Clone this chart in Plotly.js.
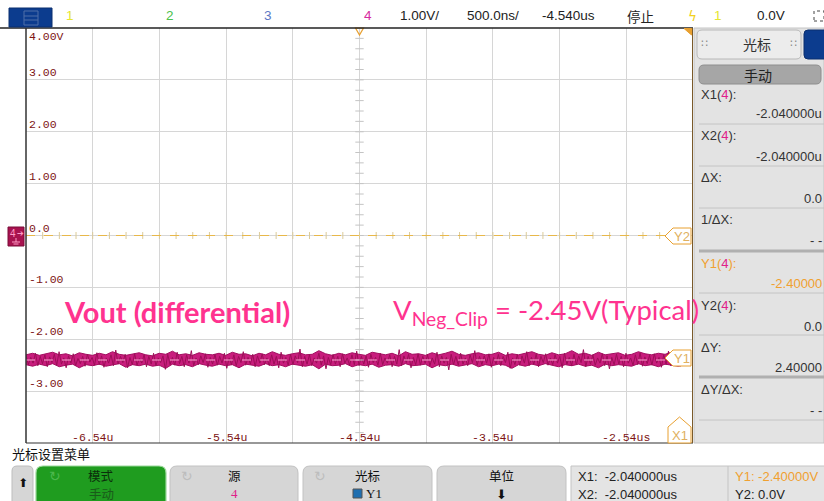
<!DOCTYPE html>
<html>
<head>
<meta charset="utf-8">
<script src="https://cdn.plot.ly/plotly-3.0.1.min.js"></script>
<style>
html,body{margin:0;padding:0;background:#fff;}
#chart{width:824px;height:501px;}
</style>
</head>
<body>
<div id="chart"></div>
<script>
// ---------------- data ----------------
const timeStart = -7.04;          // us, left edge of screen
const timeEnd = -2.04;            // us, right edge
const voltMin = -4;
const voltMax = 4;
const triggerTime = -4.54;        // us (screen centre)
const cursorX1 = -2.04;           // us
const cursorY1 = -2.40;           // V
const cursorY2 = 0.0;             // V

const yTickVals = [4, 3, 2, 1, 0, -1, -2, -3];
const yTickText = ['4.00V', '3.00', '2.00', '1.00', '0.0', '-1.00', '-2.00', '-3.00'];
const xTickVals = [-6.54, -5.54, -4.54, -3.54, -2.54];
const xTickText = ['-6.54u', '-5.54u', '-4.54u', '-3.54u', '-2.54us'];

// channel 4 waveform (differential Vout)
const ch4Volts = [
-2.31,-2.49,-2.35,-2.46,-2.27,-2.51,-2.33,-2.47,-2.30,-2.53,
-2.34,-2.45,-2.29,-2.50,-2.24,-2.48,-2.36,-2.55,-2.32,-2.46,
-2.28,-2.51,-2.37,-2.47,-2.33,-2.52,-2.29,-2.44,-2.35,-2.50,
-2.26,-2.49,-2.32,-2.54,-2.36,-2.46,-2.30,-2.51,-2.21,-2.48,
-2.33,-2.45,-2.29,-2.55,-2.35,-2.49,-2.28,-2.50,-2.37,-2.46,
-2.30,-2.53,-2.33,-2.48,-2.27,-2.51,-2.36,-2.45,-2.32,-2.58,
-2.29,-2.49,-2.35,-2.50,-2.25,-2.47,-2.33,-2.53,-2.30,-2.46,
-2.22,-2.51,-2.36,-2.49,-2.32,-2.45,-2.28,-2.54,-2.35,-2.48,
-2.29,-2.50,-2.33,-2.46,-2.27,-2.56,-2.36,-2.49,-2.30,-2.51,
-2.33,-2.45,-2.24,-2.50,-2.35,-2.48,-2.29,-2.53,-2.32,-2.46,
-2.28,-2.49,-2.36,-2.51,-2.30,-2.48,-2.33,-2.55,-2.25,-2.46,
-2.35,-2.50,-2.29,-2.49,-2.32,-2.45,-2.19,-2.53,-2.33,-2.48,
-2.30,-2.51,-2.36,-2.46,-2.27,-2.50,-2.32,-2.57,-2.35,-2.49,
-2.29,-2.48,-2.33,-2.53,-2.28,-2.46,-2.36,-2.50,-2.30,-2.49,
-2.23,-2.51,-2.33,-2.48,-2.32,-2.54,-2.29,-2.45,-2.35,-2.50,
-2.27,-2.49,-2.36,-2.46,-2.30,-2.53,-2.33,-2.48,-2.20,-2.51,
-2.32,-2.45,-2.29,-2.55,-2.35,-2.49,-2.28,-2.50,-2.33,-2.46,
-2.30,-2.51,-2.36,-2.48,-2.25,-2.53,-2.32,-2.46,-2.35,-2.59,
-2.29,-2.49,-2.33,-2.50,-2.27,-2.48,-2.36,-2.51,-2.30,-2.45,
-2.22,-2.50,-2.33,-2.49,-2.32,-2.46,-2.28,-2.54,-2.35,-2.48,
-2.29,-2.51,-2.33,-2.45,-2.25,-2.56,-2.36,-2.49,-2.30,-2.50,
-2.32,-2.46,-2.24,-2.51,-2.35,-2.48,-2.29,-2.53,-2.33,-2.45,
-2.28,-2.50,-2.36,-2.49,-2.30,-2.46,-2.33,-2.55,-2.27,-2.48,
-2.35,-2.51,-2.29,-2.49,-2.32,-2.45,-2.20,-2.53,-2.33,-2.48,
-2.30,-2.50,-2.36,-2.46,-2.28,-2.51,-2.32,-2.57,-2.35,-2.49,
-2.29,-2.48,-2.33,-2.53,-2.27,-2.46,-2.36,-2.50,-2.30,-2.49,
-2.26,-2.52,-2.34,-2.47,-2.31,-2.50,-2.28,-2.46,-2.35,-2.54,
-2.30,-2.49,-2.23,-2.51,-2.34,-2.47,-2.29,-2.52,-2.33,-2.46
];
// upper / lower envelope of the dense noise band
const ch4Upper = [
-2.30,-2.27,-2.31,-2.28,-2.25,-2.30,-2.28,-2.32,-2.26,-2.29,
-2.31,-2.27,-2.30,-2.24,-2.29,-2.31,-2.28,-2.26,-2.30,-2.32,
-2.27,-2.29,-2.23,-2.30,-2.28,-2.31,-2.26,-2.29,-2.30,-2.27,
-2.31,-2.25,-2.29,-2.28,-2.32,-2.27,-2.30,-2.24,-2.29,-2.31,
-2.28,-2.26,-2.30,-2.29,-2.22,-2.28,-2.31,-2.27,-2.30,-2.26,
-2.29,-2.31,-2.25,-2.28,-2.30,-2.27,-2.32,-2.24,-2.29,-2.28,
-2.31,-2.26,-2.30,-2.27,-2.23,-2.29,-2.31,-2.28,-2.26,-2.30,
-2.29,-2.25,-2.31,-2.28,-2.30,-2.27,-2.24,-2.29,-2.31,-2.26,
-2.30,-2.28,-2.22,-2.29,-2.27,-2.31,-2.25,-2.30,-2.28,-2.26,
-2.31,-2.29,-2.24,-2.28,-2.30,-2.27,-2.29,-2.25,-2.31,-2.28
];
const ch4Lower = [
-2.49,-2.52,-2.48,-2.51,-2.47,-2.53,-2.50,-2.48,-2.55,-2.49,
-2.51,-2.48,-2.52,-2.50,-2.47,-2.54,-2.49,-2.51,-2.48,-2.52,
-2.50,-2.56,-2.48,-2.51,-2.49,-2.53,-2.47,-2.50,-2.52,-2.48,
-2.51,-2.49,-2.55,-2.48,-2.50,-2.52,-2.47,-2.51,-2.49,-2.53,
-2.48,-2.50,-2.52,-2.49,-2.57,-2.48,-2.51,-2.50,-2.47,-2.53,
-2.49,-2.51,-2.48,-2.54,-2.50,-2.49,-2.52,-2.47,-2.51,-2.50,
-2.48,-2.55,-2.49,-2.51,-2.48,-2.52,-2.50,-2.47,-2.53,-2.49,
-2.51,-2.48,-2.50,-2.56,-2.49,-2.52,-2.48,-2.51,-2.47,-2.50,
-2.53,-2.49,-2.51,-2.48,-2.52,-2.50,-2.55,-2.48,-2.51,-2.49,
-2.50,-2.52,-2.47,-2.51,-2.49,-2.53,-2.48,-2.50,-2.52,-2.49
];
const traceEndTime = -2.10;       // waveform drawn up to the Y1 marker

// ---------------- layout helpers ----------------
const L = 26, R = 693, T = 28, B = 443;
const px = x => (x - L) / (R - L);
const py = y => (B - y) / (B - T);
const SANS = 'Liberation Sans, Arial, sans-serif';
const CJK = 'Noto Sans CJK SC, sans-serif';
const MONO = 'Liberation Mono, DejaVu Sans Mono, monospace';

const annotations = [];
const shapes = [];

function txt(x, y, text, size, color, opts) {
  opts = opts || {};
  annotations.push({
    xref: 'paper', yref: 'paper', x: px(x), y: py(y), text: text,
    showarrow: false, xanchor: opts.xa || 'center', yanchor: opts.ya || 'middle',
    font: {family: opts.family || SANS, size: size, color: color, weight: opts.weight || 'normal'}
  });
}
function rect(x0, y0, x1, y1, fill, line, lw, layer) {
  shapes.push({type: 'rect', xref: 'paper', yref: 'paper', x0: px(x0), x1: px(x1), y0: py(y1), y1: py(y0),
    fillcolor: fill, line: {color: line || 'rgba(0,0,0,0)', width: lw === undefined ? 1 : lw}, layer: layer || 'above'});
}
function hline(x0, x1, y, color, w) {
  shapes.push({type: 'line', xref: 'paper', yref: 'paper', x0: px(x0), x1: px(x1), y0: py(y), y1: py(y),
    line: {color: color, width: w || 1}, layer: 'above'});
}
function vline(x, y0, y1, color, w) {
  shapes.push({type: 'line', xref: 'paper', yref: 'paper', x0: px(x), x1: px(x), y0: py(y0), y1: py(y1),
    line: {color: color, width: w || 1}, layer: 'above'});
}
function pathPx(pts, fill, line, lw) {
  let d = '';
  pts.forEach((p, i) => { d += (i ? ' L ' : 'M ') + px(p[0]) + ',' + py(p[1]); });
  d += ' Z';
  shapes.push({type: 'path', xref: 'paper', yref: 'paper', path: d, fillcolor: fill,
    line: {color: line || 'rgba(0,0,0,0)', width: lw === undefined ? 1 : lw}, layer: 'above'});
}
function roundRect(x0, y0, x1, y1, r, fill, line, lw) {
  const P = (x, y) => px(x) + ',' + py(y);
  const d = 'M ' + P(x0 + r, y0) + ' L ' + P(x1 - r, y0) + ' Q ' + P(x1, y0) + ' ' + P(x1, y0 + r) +
    ' L ' + P(x1, y1 - r) + ' Q ' + P(x1, y1) + ' ' + P(x1 - r, y1) +
    ' L ' + P(x0 + r, y1) + ' Q ' + P(x0, y1) + ' ' + P(x0, y1 - r) +
    ' L ' + P(x0, y0 + r) + ' Q ' + P(x0, y0) + ' ' + P(x0 + r, y0) + ' Z';
  shapes.push({type: 'path', xref: 'paper', yref: 'paper', path: d, fillcolor: fill,
    line: {color: line || 'rgba(0,0,0,0)', width: lw === undefined ? 1 : lw}, layer: 'above'});
}

// ---------------- traces ----------------
const traces = [];
const envDx = (traceEndTime - timeStart) / (ch4Upper.length - 1);
traces.push({type: 'scatter', mode: 'lines', y: ch4Upper, x0: timeStart, dx: envDx,
  line: {color: '#a31060', width: 1}, hoverinfo: 'skip', showlegend: false});
traces.push({type: 'scatter', mode: 'lines', y: ch4Lower, x0: timeStart, dx: envDx, fill: 'tonexty',
  fillcolor: '#c81d7d', line: {color: '#a31060', width: 1}, hoverinfo: 'skip', showlegend: false});
traces.push({
  type: 'scatter', mode: 'lines', y: ch4Volts, x0: timeStart,
  dx: (traceEndTime - timeStart) / (ch4Volts.length - 1),
  line: {color: '#9c0e58', width: 1}, hoverinfo: 'skip', showlegend: false
});

// centre-axis minor ticks (graticule decoration)
const vtx = [], vty = [];
for (let v = voltMin; v <= voltMax + 1e-9; v += 0.2) { vtx.push(triggerTime); vty.push(v); }
traces.push({type: 'scatter', mode: 'markers', x: vtx, y: vty, hoverinfo: 'skip', showlegend: false,
  marker: {symbol: 'line-ew', size: 6, line: {color: '#c4c4c4', width: 1}}});
const htx = [], hty = [];
for (let t = timeStart; t <= timeEnd + 1e-9; t += 0.125) { htx.push(t); hty.push(cursorY2); }
traces.push({type: 'scatter', mode: 'markers', x: htx, y: hty, hoverinfo: 'skip', showlegend: false,
  marker: {symbol: 'line-ns', size: 5, line: {color: '#dccb98', width: 1}}});

// ---------------- cursors ----------------
shapes.push({type: 'line', xref: 'paper', yref: 'y', x0: 0, x1: px(665), y0: cursorY2, y1: cursorY2,
  line: {color: '#e8b84a', width: 1, dash: 'dash'}, layer: 'above'});
shapes.push({type: 'line', xref: 'paper', yref: 'y', x0: 0, x1: px(665), y0: cursorY1, y1: cursorY1,
  line: {color: '#f7a8cf', width: 1, dash: 'dash'}, layer: 'above'});
shapes.push({type: 'line', xref: 'x', yref: 'paper', x0: cursorX1, x1: cursorX1, y0: 0, y1: 1,
  line: {color: '#d8922e', width: 1.5}, layer: 'above'});
// trigger marker
shapes.push({type: 'path', xref: 'x', yref: 'paper',
  path: 'M ' + (triggerTime - 0.03) + ',1 L ' + (triggerTime + 0.03) + ',1 L ' + triggerTime + ',' + py(35) + ' Z',
  fillcolor: 'rgba(0,0,0,0)', line: {color: '#e8a030', width: 1.2}, layer: 'above'});

// tick labels
yTickVals.forEach((v, i) => {
  annotations.push({xref: 'paper', yref: 'y', x: 0, xshift: 1, y: v, yshift: v === voltMax ? 0 : -1,
    xanchor: 'left', yanchor: v === voltMax ? 'top' : 'bottom', text: yTickText[i], showarrow: false,
    font: {family: MONO, size: 11.5, color: '#7d1414'}});
});
xTickVals.forEach((v, i) => {
  annotations.push({xref: 'x', yref: 'paper', x: v, y: py(437), xanchor: 'center', yanchor: 'middle',
    text: xTickText[i], showarrow: false, font: {family: MONO, size: 11.5, color: '#7d1414'}});
});

// plot frame
hline(0, 693, 28, '#222', 1.5);
vline(26, 28, 443, '#333', 1.5);
hline(26, 693, 443, '#333', 1.2);
vline(692.5, 28, 443, '#7a5a2a', 1);
pathPx([[684, 28.5], [691.5, 28.5], [691.5, 35]], '#e8a030', '#e8a030', 1);

// Y2 / Y1 / X1 markers
pathPx([[665, 236], [673, 228], [691, 228], [691, 244], [673, 244]], '#ffffff', '#e8a030', 1);
txt(682, 236.5, 'Y2', 13, '#e0b060');
pathPx([[665, 358], [673, 350], [691, 350], [691, 366], [673, 366]], '#ffffff', '#e8a030', 1);
txt(682, 358.5, 'Y1', 13, '#e0b060');
pathPx([[679.5, 417], [691, 427], [691, 443], [668, 443], [668, 427]], '#ffffff', '#e8a030', 1);
txt(680, 435, 'X1', 13, '#e0b060');

// ch4 ground marker
rect(8, 227, 24, 246, '#a8124f', '#7a0c38', 1);
txt(13, 233, '4', 10, '#ff9cc6');
txt(20, 233, '➔', 8, '#ff9cc6', {family: 'DejaVu Sans'});
vline(16, 238, 242, '#ff9cc6', 1);
hline(12, 20, 242, '#ff9cc6', 1);
hline(13.5, 18.5, 244, '#ff9cc6', 1);

// big annotations
txt(62, 311, 'Vout (differential)', 29, '#ff338f', {xa: 'left', family: 'Lato, sans-serif', weight: 'bold'});
txt(391, 311, 'V<sub>Neg_Clip</sub> = -2.45V(Typical)', 27.5, '#ff338f', {xa: 'left', family: 'Lato, sans-serif'});

// ---------------- top status bar ----------------
rect(9, 8, 52, 27, '#0c3c8e', '#0a2e6e', 1);
rect(24, 11, 38, 25, 'rgba(0,0,0,0)', '#4f6fa8', 1);
hline(24, 38, 16, '#4f6fa8', 1);
hline(24, 38, 20, '#4f6fa8', 1);
txt(70, 16, '1', 13.5, '#e6e630');
txt(170, 16, '2', 13.5, '#4cc24c');
txt(268, 16, '3', 13.5, '#5d78c4');
txt(368, 16, '4', 13.5, '#d62aa0');
txt(398, 16, '1.00V/', 13.5, '#222', {xa: 'left'});
txt(465, 16, '500.0ns/', 13.5, '#222', {xa: 'left'});
txt(540, 16, '-4.540us', 13.5, '#222', {xa: 'left'});
txt(640, 16, '停止', 13.5, '#222', {family: CJK});
txt(692, 16, 'ϟ', 13.5, '#f2d020', {family: 'DejaVu Sans'});
txt(718, 16, '1', 13.5, '#e6e630');
txt(771, 16, '0.0V', 13.5, '#222');
shapes.push({type: 'rect', xref: 'paper', yref: 'paper', x0: px(814), x1: px(824), y0: py(21), y1: py(11),
  fillcolor: 'rgba(0,0,0,0)', line: {color: '#444', width: 1, dash: 'dot'}, layer: 'above'});

// ---------------- right cursor panel ----------------
rect(694, 28, 824, 443, '#e3e3e3', '#c4c4c4', 1);
roundRect(697, 30, 801, 59, 5, '#ececec', '#b8b8b8', 1);
txt(757, 44, '光标', 14, '#333', {family: CJK});
txt(704, 44, '∷', 11, '#888', {family: 'DejaVu Sans'});
txt(794, 44, '∷', 11, '#888', {family: 'DejaVu Sans'});
roundRect(804, 30, 830, 59, 4, '#0c3c8e', '#0a2e6e', 1);
roundRect(699, 65, 821, 84, 5, '#a6a6a6', '#8e8e8e', 1);
txt(758, 74.5, '手动', 14, '#222', {family: CJK});

const M = '<span style="color:#e0208a">4</span>';
const rowsLabel = ['X1(' + M + '):', 'X2(' + M + '):', 'ΔX:', '1/ΔX:', 'Y1(' + M + '):', 'Y2(' + M + '):', 'ΔY:', 'ΔY/ΔX:'];
const rowsValue = ['-2.040000u', '-2.040000u', '0.0', '- -', '-2.40000', '0.0', '2.40000', '- -'];
const labelY = [94, 135, 177, 219, 263, 305, 347, 389];
const valueY = [113, 156, 198, 240, 283, 326, 367, 410];
const sepY = [124, 166, 208, 251, 293, 335, 377, 420];
rowsLabel.forEach((l, i) => {
  const col = i === 4 ? '#f0a030' : '#333';
  txt(699, labelY[i], l, 13, col, {xa: 'left'});
  txt(824, valueY[i], rowsValue[i], 13, col, {xa: 'right'});
  hline(699, 824, sepY[i], (i === 3 || i === 6) ? '#b0b0b0' : '#c4c4c4', (i === 3 || i === 6) ? 3 : 1);
});

// ---------------- bottom softkey menu ----------------
txt(10, 453, '光标设置菜单', 13, '#111', {xa: 'left', family: CJK});
roundRect(12, 466, 33, 510, 5, '#d6d6d6', '#bdbdbd', 1);
txt(22.5, 483, '⬆', 12, '#111', {family: 'DejaVu Sans'});
roundRect(36, 466, 166, 510, 7, '#1f9c1f', '#9ad89a', 1.2);
txt(101, 475.5, '模式', 12.5, '#0b2e0b', {family: CJK});
txt(101, 493.5, '手动', 12.5, '#1a5a1a', {family: CJK});
txt(55, 476, '↻', 14, '#4cb84c', {family: 'DejaVu Sans'});
roundRect(170, 466, 298, 510, 7, '#d6d6d6', '#c2c2c2', 1);
txt(234, 475.5, '源', 12.5, '#111', {family: CJK});
txt(234, 493.5, '4', 13, '#e0208a', {family: 'Liberation Serif'});
txt(187, 476, '↻', 14, '#bdbdbd', {family: 'DejaVu Sans'});
roundRect(303, 466, 432, 510, 7, '#d6d6d6', '#c2c2c2', 1);
txt(367, 475.5, '光标', 12.5, '#111', {family: CJK});
rect(353, 489, 362, 498, '#1f6fb0', '#555', 1);
txt(374, 493.5, 'Y1', 13, '#111', {family: 'Liberation Serif'});
txt(320, 476, '↻', 14, '#bdbdbd', {family: 'DejaVu Sans'});
roundRect(437, 466, 566, 510, 7, '#d6d6d6', '#c2c2c2', 1);
txt(501, 475.5, '单位', 12.5, '#111', {family: CJK});
txt(501, 494, '⬇', 13, '#111', {family: 'DejaVu Sans'});
rect(571, 466, 830, 510, '#e4e4e4', '#c4c4c4', 1);
vline(728, 466, 501, '#c4c4c4', 1);
txt(576, 476, 'X1:  -2.040000us', 13, '#222', {xa: 'left'});
txt(576, 494, 'X2:  -2.040000us', 13, '#222', {xa: 'left'});
txt(733, 476, 'Y1: -2.40000V', 13, '#f0a030', {xa: 'left'});
txt(733, 494, 'Y2: 0.0V', 13, '#222', {xa: 'left'});

const layout = {
  width: 824, height: 501,
  margin: {l: L, r: 824 - R, t: T, b: 501 - B, pad: 0},
  paper_bgcolor: '#ffffff', plot_bgcolor: '#ffffff',
  showlegend: false,
  xaxis: {range: [timeStart, timeEnd], tick0: timeStart, dtick: 0.5, showgrid: true, gridcolor: '#d6d6d6',
    gridwidth: 1, zeroline: false, showticklabels: false, ticks: '', showline: false, fixedrange: true},
  yaxis: {range: [voltMin, voltMax], tick0: 0, dtick: 1, showgrid: true, gridcolor: '#d6d6d6',
    gridwidth: 1, zeroline: false, showticklabels: false, ticks: '', showline: false, fixedrange: true},
  shapes: shapes,
  annotations: annotations
};
Plotly.newPlot('chart', traces, layout, {displayModeBar: false, staticPlot: true});
</script>
</body>
</html>
